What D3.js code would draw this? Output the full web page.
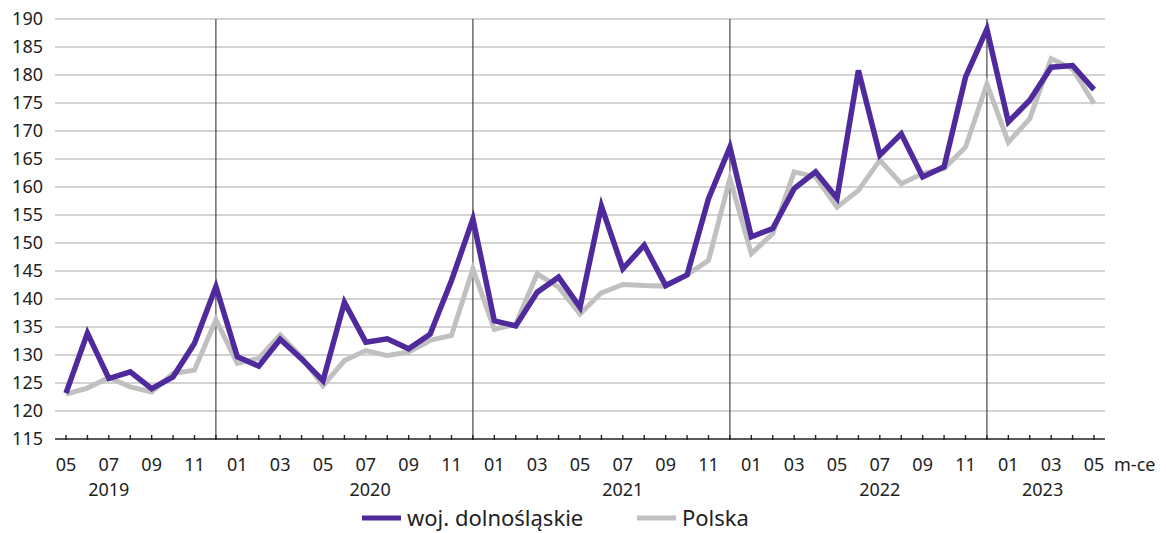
<!DOCTYPE html>
<html>
<head>
<meta charset="utf-8">
<script src="https://cdn.jsdelivr.net/npm/d3@7"></script>
<style>
  body { margin: 0; background: #fff; }
  svg { display: block; font-family: "Noto Sans", "Open Sans", sans-serif; }
</style>
</head>
<body>
<svg id="chart"></svg>
<script>
// months 2019-05 .. 2023-05
const months = [
  "2019-05","2019-06","2019-07","2019-08","2019-09","2019-10","2019-11","2019-12",
  "2020-01","2020-02","2020-03","2020-04","2020-05","2020-06","2020-07","2020-08","2020-09","2020-10","2020-11","2020-12",
  "2021-01","2021-02","2021-03","2021-04","2021-05","2021-06","2021-07","2021-08","2021-09","2021-10","2021-11","2021-12",
  "2022-01","2022-02","2022-03","2022-04","2022-05","2022-06","2022-07","2022-08","2022-09","2022-10","2022-11","2022-12",
  "2023-01","2023-02","2023-03","2023-04","2023-05"
];
const dolnoslaskie = [
  123.2, 133.9, 125.8, 127.0, 124.0, 126.1, 132.1, 142.2,
  129.7, 128.0, 132.8, 129.3, 125.4, 139.4, 132.3, 132.9, 131.1, 133.7, 143.3, 154.3,
  136.1, 135.2, 141.2, 143.9, 138.5, 156.6, 145.4, 149.6, 142.4, 144.3, 157.9, 167.1,
  151.1, 152.6, 159.7, 162.7, 158.0, 180.8, 165.7, 169.5, 161.8, 163.6, 179.6, 188.2,
  171.6, 175.5, 181.4, 181.7, 177.4
];
const polska = [
  123.0, 124.1, 126.0, 124.3, 123.4, 126.7, 127.3, 136.3,
  128.5, 129.4, 133.6, 129.6, 124.5, 129.0, 130.8, 129.9, 130.5, 132.6, 133.5, 145.4,
  134.6, 135.5, 144.5, 142.1, 137.3, 141.1, 142.6, 142.4, 142.3, 144.3, 146.9, 161.5,
  148.1, 151.7, 162.7, 161.8, 156.4, 159.4, 164.8, 160.6, 162.4, 163.3, 167.1, 178.4,
  168.0, 172.2, 182.9, 181.1, 174.9
];
const yTicks = d3.range(115, 191, 5);
const yearLabels = [
  { year: "2019", at: 2 },
  { year: "2020", at: 14.2 },
  { year: "2021", at: 26 },
  { year: "2022", at: 38 },
  { year: "2023", at: 45.6 }
];
const seriesNames = ["woj. dolnośląskie", "Polska"];
const colors = ["#4f2a9c", "#c0c0c0"];

const width = 1166, height = 533;
const svg = d3.select("#chart").attr("width", width).attr("height", height);

const x = d3.scaleLinear().domain([0, months.length - 1]).range([66, 1094]);
const y = d3.scaleLinear().domain([115, 190]).range([439, 19]);
const gridLeft = 55, gridRight = 1105;
const textColor = "#222";

// gridlines
svg.append("g")
  .selectAll("line")
  .data(yTicks.filter(d => d > 115))
  .join("line")
  .attr("x1", gridLeft).attr("x2", gridRight)
  .attr("y1", d => y(d)).attr("y2", d => y(d))
  .attr("stroke", "#c4c4c4").attr("stroke-width", 1.3);

// y labels
svg.append("g")
  .selectAll("text")
  .data(yTicks)
  .join("text")
  .attr("x", 43).attr("y", d => y(d))
  .attr("dy", "0.36em")
  .attr("text-anchor", "end")
  .attr("font-size", 18)
  .attr("fill", textColor)
  .text(d => d);

// year separators at December
const decIdx = months.map((m, i) => m.endsWith("-12") ? i : -1).filter(i => i >= 0);
svg.append("g")
  .selectAll("line")
  .data(decIdx)
  .join("line")
  .attr("x1", d => x(d)).attr("x2", d => x(d))
  .attr("y1", y(190)).attr("y2", y(115))
  .attr("stroke", textColor).attr("stroke-width", 1);

// x axis
svg.append("line")
  .attr("x1", gridLeft).attr("x2", gridRight)
  .attr("y1", y(115)).attr("y2", y(115))
  .attr("stroke", textColor).attr("stroke-width", 1.6);

svg.append("g")
  .selectAll("line")
  .data(months.map((m, i) => i))
  .join("line")
  .attr("x1", d => x(d)).attr("x2", d => x(d))
  .attr("y1", y(115) - 4).attr("y2", y(115) + 1)
  .attr("stroke", textColor).attr("stroke-width", 1.4);

svg.append("g")
  .selectAll("text")
  .data(months.map((m, i) => ({ m, i })).filter(d => +d.m.slice(5) % 2 === 1))
  .join("text")
  .attr("x", d => x(d.i)).attr("y", 471)
  .attr("text-anchor", "middle")
  .attr("font-size", 18)
  .attr("fill", textColor)
  .text(d => d.m.slice(5));

svg.append("g")
  .selectAll("text")
  .data(yearLabels)
  .join("text")
  .attr("x", d => x(d.at)).attr("y", 496)
  .attr("text-anchor", "middle")
  .attr("font-size", 18)
  .attr("fill", textColor)
  .text(d => d.year);

svg.append("text")
  .attr("x", 1114).attr("y", 471)
  .attr("font-size", 18)
  .attr("fill", textColor)
  .text("m-ce");

// lines
const line = d3.line().x((d, i) => x(i)).y(d => y(d));
[polska, dolnoslaskie].forEach((s, k) => {
  svg.append("path")
    .datum(s)
    .attr("fill", "none")
    .attr("stroke", k === 0 ? colors[1] : colors[0])
    .attr("stroke-width", k === 0 ? 5 : 5.5)
    .attr("stroke-linejoin", "miter")
    .attr("d", line);
});

// legend
const legendItems = [
  { name: seriesNames[0], color: colors[0], x: 362 },
  { name: seriesNames[1], color: colors[1], x: 637 }
];
const lg = svg.append("g").selectAll("g")
  .data(legendItems)
  .join("g")
  .attr("transform", d => `translate(${d.x},518)`);
lg.append("line")
  .attr("x1", 0).attr("x2", 39)
  .attr("stroke", d => d.color).attr("stroke-width", 5);
lg.append("text")
  .attr("x", 45).attr("dy", "0.35em")
  .attr("font-size", 22)
  .attr("fill", textColor)
  .text(d => d.name);
</script>
</body>
</html>
